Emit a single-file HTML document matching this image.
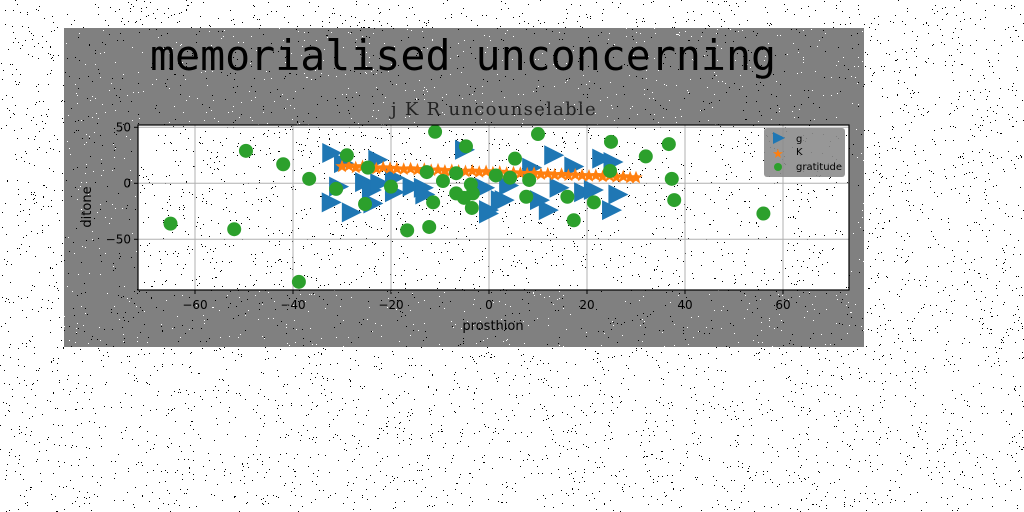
<!DOCTYPE html>
<html><head><meta charset="utf-8"><style>
html,body{margin:0;padding:0;background:#fff;}
svg{display:block;}
</style></head><body>
<svg id="chart" width="1024" height="512" xmlns="http://www.w3.org/2000/svg">
<rect x="64" y="28" width="800" height="319" fill="#808080"/>
<g id="noise"></g>
<text x="150" y="70" font-family="'DejaVu Sans Mono','Liberation Mono',monospace" font-size="41.6" fill="#000">memorialised unconcerning</text>
<text x="494" y="115" text-anchor="middle" font-family="'DejaVu Serif','Liberation Serif',serif" font-size="18" letter-spacing="1.3" fill="#222">j K R uncounselable</text>
<rect x="138" y="125" width="711" height="165" fill="#fff"/>
<g id="noise2"></g>
<g id="grid"></g>
<g id="marks"></g>
<rect x="138" y="125" width="711" height="165" fill="none" stroke="#000" stroke-width="1.2"/>
<g id="ticks"></g>
<text x="493" y="330" text-anchor="middle" font-family="'DejaVu Sans','Liberation Sans',sans-serif" font-size="13">prosthion</text>
<text transform="translate(91,207) rotate(-90)" text-anchor="middle" font-family="'DejaVu Sans','Liberation Sans',sans-serif" font-size="13">ditone</text>
<g>
<rect x="764" y="128" width="81" height="49" rx="3" fill="#8c8c8c" opacity="0.9"/>
<g><polygon points="773,132 785,138 773,144" fill="#1f77b4"/><text x="796" y="142" font-family="'DejaVu Sans',sans-serif" font-size="10">g</text></g>
<g><text x="778" y="158" text-anchor="middle" font-size="13" fill="#ff7f0e">★</text><text x="796" y="155" font-family="'DejaVu Sans',sans-serif" font-size="10">K</text></g>
<g><circle cx="778" cy="167" r="4" fill="#2ca02c"/><text x="796" y="170" font-family="'DejaVu Sans',sans-serif" font-size="10">gratitude</text></g>
</g>
</svg>
<script>
const xTicks=[-60,-40,-20,0,20,40,60];
const yTicks=[50,0,-50];
const triX=[-32.4,-30,-23,-31,-32.5,-28.4,-25.7,-24.3,-22.6,-19.6,-19.6,-24,-16,-13.7,-13.4,-5.3,-1.2,-0.4,2.8,3.7,12.9,8.4,17,22.7,25,14,10,11.8,19,21,26,24.7,-0.4,2];
const triY=[27,18,21,-3,-17,-26,1,-6,0,-8,5,-18,-3,-4,-10,30,-4,-27,-15,-2,25,14,15,22,19,-4,-15,-24,-8,-6,-10,-24,-24,-15];
const starX=[-30,-28.6,-27.2,-25.8,-24.4,-23,-21.6,-20.2,-18.8,-17.4,-16,-14.6,-13.2,-11.8,-10.4,-9,-7.6,-6.2,-4.8,-3.4,-2,-0.6,0.8,2.2,3.6,5,6.4,7.8,9.2,10.6,12,13.4,14.8,16.2,17.6,19,20.4,21.8,23.2,24.6,26,27.4,28.8,30];
const starY=[15,15.5,14,15,14.5,13,14,13.5,13,12.5,13,12,12.5,11.5,12,11,11.5,11,10.5,11,10,10.5,9.5,10,9,9.5,9,8.5,9,8,8.5,7.5,8,7,7.5,7,6.5,7,6,6.5,5.5,6,5,5];
const cirX=[-65,-52,-49.6,-42,-38.8,-11,-4.7,-29,-24.7,-36.7,-31.2,-25.3,-20,-16.7,-12.2,-12.7,-9.4,-11.4,-6.7,-6.7,-5.1,-3.7,-3.3,-3.5,1.4,10,5.3,4.3,8.2,7.6,16,17.3,21.4,24.9,24.7,32,36.7,37.3,37.8,56];
const cirY=[-36,-41,29,17,-88,46,33,25,14,4,-5,-18.5,-3,-42,-39,10,2,-17,9,-9,-13,-1,-9,-22,7,44,22,5,3,-12,-12,-33,-17,37,11,24,35,4,-15,-27];
const NS='http://www.w3.org/2000/svg';
const X0=489,XS=4.9,Y0=183.3,YS=1.12;
const sx=v=>X0+v*XS, sy=v=>Y0-v*YS;
function mk(tag,attrs,parent){const e=document.createElementNS(NS,tag);for(const k in attrs)e.setAttribute(k,attrs[k]);parent.appendChild(e);return e;}
const grid=document.getElementById('grid'),ticks=document.getElementById('ticks'),marks=document.getElementById('marks');
xTicks.forEach(t=>{const x=sx(t);
 const g=mk('line',{x1:x,x2:x,y1:125,y2:290,stroke:'#b0b0b0','stroke-width':1},grid);
 
 
 mk('line',{x1:x,x2:x,y1:290,y2:294,stroke:'#000'},ticks);
 const l=mk('text',{x:x,y:309,'text-anchor':'middle','font-family':"'DejaVu Sans',sans-serif",'font-size':12},ticks);
 l.textContent=(t<0?'\u2212':'')+Math.abs(t);
 
 });
yTicks.forEach(t=>{const y=sy(t);
 const g=mk('line',{x1:138,x2:849,y1:y,y2:y,stroke:'#b0b0b0','stroke-width':1},grid);
 
 
 mk('line',{x1:134,x2:138,y1:y,y2:y,stroke:'#000'},ticks);
 const l=mk('text',{x:131,y:y+4,'text-anchor':'end','font-family':"'DejaVu Sans',sans-serif",'font-size':12},ticks);
 l.textContent=(t<0?'\u2212':'')+Math.abs(t);
 
 });
triX.forEach((v,i)=>{const x=sx(v),y=sy(triY[i]);
 const p=mk('polygon',{points:`${x-8},${y-10} ${x+12},${y} ${x-8},${y+10}`,fill:'#1f77b4'},marks);
 
 });
starX.forEach((v,i)=>{const x=sx(v),y=sy(starY[i]);let pts=[];
 for(let k=0;k<10;k++){const r=k%2?3:7,a=-Math.PI/2+k*Math.PI/5;pts.push((x+r*Math.cos(a)).toFixed(1)+','+(y+r*Math.sin(a)).toFixed(1));}
 const p=mk('polygon',{points:pts.join(' '),fill:'#ff7f0e'},marks);
 
 });
cirX.forEach((v,i)=>{
 const c=mk('circle',{cx:sx(v),cy:sy(cirY[i]),r:7,fill:'#2ca02c'},marks);
 
 });
// speckle noise
const noise=document.getElementById('noise'),noise2=document.getElementById('noise2');let s=12345;const rnd=()=>{s=(s*16807)%2147483647;return s/2147483647;};
for(let i=0;i<6000;i++){const x=rnd()*1024,y=rnd()*512;const inFig=x>64&&x<864&&y>28&&y<347;
 const inPlot=x>138&&x<849&&y>125&&y<290;
 if(inPlot){mk('rect',{x:x.toFixed(0),y:y.toFixed(0),width:1,height:1,fill:'#000'},noise2);continue;}
 mk('rect',{x:x.toFixed(0),y:y.toFixed(0),width:1,height:1,fill:inFig?(rnd()<0.5?'#fff':'#000'):'#000'},noise);}
</script>
</body></html>
